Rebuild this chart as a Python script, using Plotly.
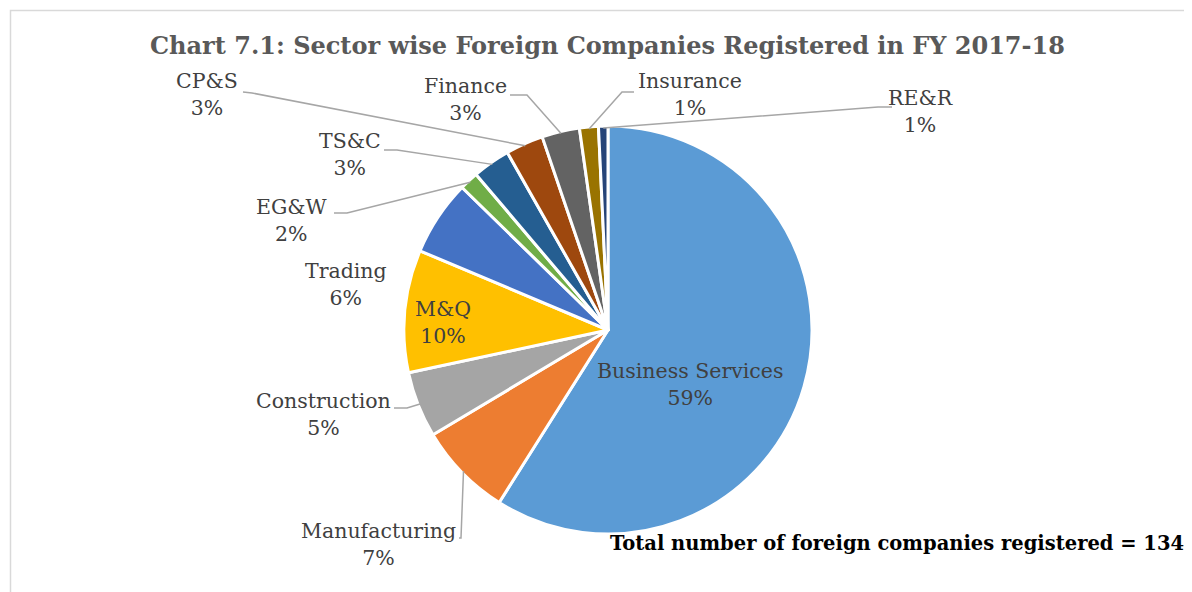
import math
import plotly.graph_objects as go

# ---- data ----
sectors = ["Business Services", "Manufacturing", "Construction", "M&Q", "Trading",
           "EG&W", "TS&C", "CP&S", "Finance", "Insurance", "RE&R"]
counts = [79, 10, 7, 13, 8, 2, 4, 4, 4, 2, 1]
pct_labels = ["59%", "7%", "5%", "10%", "6%", "2%", "3%", "3%", "3%", "1%", "1%"]
colors = ["#5B9BD5", "#ED7D31", "#A5A5A5", "#FFC000", "#4472C4",
          "#70AD47", "#255E91", "#9E480E", "#636363", "#997300", "#264478"]
title_text = "Chart 7.1: Sector wise Foreign Companies Registered in FY 2017-18"
note_text = "Total number of foreign companies registered = 134"

# ---- layout constants (pixels, in page coordinates) ----
W, H = 1192, 592
OFF = 8  # page body margin
CX, CY, R = 608, 330, 204
LABEL_FONT = "DejaVu Serif"

# label block centre, leader start (near label), leader elbow
label_layout = {
    "Business Services": dict(pos=(690, 384)),
    "M&Q": dict(pos=(443, 322)),
    "Trading": dict(pos=(346, 284)),
    "Manufacturing": dict(pos=(378, 544), lead=[(459, 538), (461, 538)]),
    "Construction": dict(pos=(323, 414), lead=[(394, 408), (407, 408)]),
    "EG&W": dict(pos=(292, 220), lead=[(334, 213), (347, 213)]),
    "TS&C": dict(pos=(350, 155), lead=[(384, 150), (397, 150)]),
    "CP&S": dict(pos=(207, 95), lead=[(243, 92), (252, 93)]),
    "Finance": dict(pos=(465, 100), lead=[(510, 95), (527, 95)]),
    "Insurance": dict(pos=(690, 95), lead=[(634, 92), (622, 92)]),
    "RE&R": dict(pos=(920, 112), lead=[(892, 107), (878, 107)]),
}


def px(x):
    return (x - OFF) / W


def py(y):
    return 1 - (y - OFF) / H


fig = go.Figure(go.Pie(
    labels=sectors, values=counts, sort=False, direction="clockwise", rotation=0,
    marker=dict(colors=colors, line=dict(color="white", width=3)),
    textinfo="none", showlegend=False,
    hovertemplate="%{label}: %{value} (%{percent})<extra></extra>",
    domain=dict(x=[px(CX - R), px(CX + R)], y=[py(CY + R), py(CY - R)]),
))

annotations = []
shapes = []
total = sum(counts)
cum = 0
for name, val, pct in zip(sectors, counts, pct_labels):
    mid = (cum + val / 2) / total * 2 * math.pi
    cum += val
    ex = CX + (R - 2) * math.sin(mid)
    ey = CY - (R - 2) * math.cos(mid)
    info = label_layout[name]
    lx, ly = info["pos"]
    annotations.append(dict(
        x=px(lx), y=py(ly), xref="paper", yref="paper", showarrow=False,
        text=f"{name}<br>{pct}", align="center", xanchor="center", yanchor="middle",
        font=dict(family=LABEL_FONT, size=20.5, color="#404040"),
    ))
    if "lead" in info:
        pts = info["lead"] + [(ex, ey)]
        path = "M " + " L ".join(f"{px(x):.5f},{py(y):.5f}" for x, y in pts)
        shapes.append(dict(type="path", xref="paper", yref="paper", path=path,
                           line=dict(color="#A6A6A6", width=1.5)))

# title and note
annotations.append(dict(
    x=px(607), y=py(45), xref="paper", yref="paper", showarrow=False,
    text=f"<b>{title_text}</b>", xanchor="center", yanchor="middle",
    font=dict(family=LABEL_FONT, size=24, color="#595959"),
))
annotations.append(dict(
    x=px(1186), y=py(543), xref="paper", yref="paper", showarrow=False,
    text=f"<b>{note_text}</b>", xanchor="right", yanchor="middle",
    font=dict(family=LABEL_FONT, size=19.5, color="#000000"),
))

# chart-area border
shapes.append(dict(type="rect", xref="paper", yref="paper",
                   x0=px(10.5), x1=px(1220), y0=py(640), y1=py(10.5),
                   line=dict(color="#D9D9D9", width=1.5), layer="below"))

fig.update_layout(
    width=W, height=H, margin=dict(l=0, r=0, t=0, b=0),
    paper_bgcolor="white", plot_bgcolor="white",
    annotations=annotations, shapes=shapes,
)

fig.write_html("out.html")
